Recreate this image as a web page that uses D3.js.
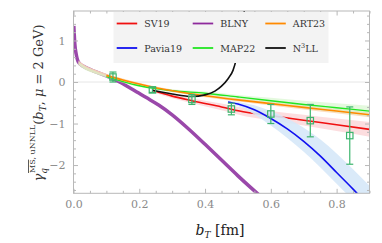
<!DOCTYPE html>
<html>
  <head>
    <title>Rapidity anomalous dimension</title>
    <script src="https://d3js.org/d3.v7.min.js"></script>
    <style>
      body { margin: 0; background: #fff; }
    </style>
  </head>
  <body>
    <div id="chart"></div>
    <script>
      // curves (bT in fm)
      const bBLNY = [0.001, 0.004, 0.008, 0.015, 0.03, 0.06, 0.1, 0.14, 0.18, 0.22, 0.26, 0.3, 0.35, 0.4, 0.45, 0.5, 0.54, 0.57];
      const yBLNY = [1.35, 0.92, 0.68, 0.48, 0.38, 0.27, 0.15, 0.0, -0.18, -0.37, -0.56, -0.79, -1.13, -1.5, -1.88, -2.26, -2.55, -2.76];

      const bGrid = [0.015, 0.03, 0.06, 0.1, 0.15, 0.2, 0.25, 0.3, 0.4, 0.5, 0.6, 0.7, 0.8, 0.9];
      const yART23 = [0.47, 0.38, 0.27, 0.16, 0.05, -0.05, -0.14, -0.21, -0.33, -0.43, -0.52, -0.61, -0.7, -0.79];
      const errART23 = [0.05, 0.05, 0.045, 0.04, 0.035, 0.03, 0.03, 0.03, 0.035, 0.04, 0.045, 0.05, 0.055, 0.06];
      const yMAP22 = [0.45, 0.36, 0.25, 0.13, 0.01, -0.09, -0.16, -0.21, -0.27, -0.36, -0.45, -0.54, -0.62, -0.7];
      const errMAP22 = [0.04, 0.04, 0.035, 0.03, 0.03, 0.03, 0.03, 0.035, 0.04, 0.05, 0.07, 0.09, 0.11, 0.13];

      const bSV19 = [0.24, 0.3, 0.36, 0.45, 0.525, 0.6, 0.7, 0.8, 0.9];
      const ySV19 = [-0.2, -0.34, -0.45, -0.6, -0.73, -0.81, -0.92, -1.03, -1.14];
      const hiSV19 = [-0.16, -0.29, -0.39, -0.52, -0.63, -0.7, -0.79, -0.88, -0.96];
      const loSV19 = [-0.24, -0.39, -0.51, -0.68, -0.83, -0.92, -1.05, -1.18, -1.32];

      const bPavia = [0.47, 0.5, 0.55, 0.6, 0.65, 0.7, 0.75, 0.8, 0.85, 0.9];
      const yPavia = [-0.48, -0.53, -0.67, -0.88, -1.13, -1.43, -1.78, -2.18, -2.58, -3.0];
      const hiPavia = [-0.45, -0.48, -0.56, -0.7, -0.88, -1.1, -1.38, -1.72, -2.1, -2.5];
      const loPavia = [-0.51, -0.58, -0.78, -1.05, -1.35, -1.68, -2.05, -2.45, -2.85, -3.3];

      const bN3LL = [0.24, 0.3, 0.36, 0.4, 0.43, 0.45, 0.47, 0.485, 0.495, 0.505, 0.512, 0.52];
      const yN3LL = [-0.2, -0.29, -0.35, -0.31, -0.22, -0.1, 0.08, 0.28, 0.55, 0.95, 1.3, 1.75];

      // lattice points
      const bLat = [0.12, 0.24, 0.36, 0.48, 0.6, 0.72, 0.84];
      const yLat = [0.12, -0.19, -0.42, -0.65, -0.77, -0.93, -1.29];
      const eLat = [0.12, 0.06, 0.12, 0.14, 0.23, 0.39, 0.69];

      const xMajor = [0, 0.2, 0.4, 0.6, 0.8];
      const yMajor = [-2, -1, 0, 1];

      const legendNames = ['SV19', 'BLNY', 'ART23', 'Pavia19', 'MAP22', 'N3LL'];
      const legendColors = ['#f01010', '#8e2a9c', '#ff8a00', '#1010f0', '#22e622', '#111111'];

      const W = 382, H = 243;
      const x = d3.scaleLinear().domain([0, 0.9]).range([73.5, 369.5]);
      const y = d3.scaleLinear().domain([-2.68, 1.71]).range([193.3, 11]);

      const svg = d3.select('#chart').append('svg')
        .attr('width', W).attr('height', H)
        .attr('font-family', 'DejaVu Serif');

      svg.append('clipPath').attr('id', 'clip')
        .append('rect')
        .attr('x', x(0)).attr('y', y(1.71))
        .attr('width', x(0.9) - x(0)).attr('height', y(-2.68) - y(1.71));

      // gridline at zero
      svg.append('line')
        .attr('x1', x(0)).attr('x2', x(0.9))
        .attr('y1', y(0)).attr('y2', y(0))
        .attr('stroke', '#e6e6e6').attr('stroke-width', 1);

      const plot = svg.append('g').attr('clip-path', 'url(#clip)');

      const line = d3.line().curve(d3.curveMonotoneX);
      const area = d3.area().curve(d3.curveMonotoneX);

      function band(bs, lo, hi, fill, op) {
        plot.append('path')
          .attr('d', area.x((d, i) => x(bs[i])).y0((d, i) => y(lo[i])).y1((d, i) => y(hi[i]))(bs))
          .attr('fill', fill).attr('opacity', op);
      }
      function curve(bs, ys, color, w, from) {
        const pts = bs.map((b, i) => [b, ys[i]]).filter(p => p[0] >= (from || 0));
        plot.append('path')
          .attr('d', line.x(p => x(p[0])).y(p => y(p[1]))(pts))
          .attr('fill', 'none').attr('stroke', color).attr('stroke-width', w);
      }

      // BLNY underneath, the bands cover it where they overlap
      curve(bBLNY, yBLNY, '#9a48aa', 3.5);

      band(bGrid, yART23.map((v, i) => v - errART23[i]), yART23.map((v, i) => v + errART23[i]), '#fcd9b8', 0.9);
      band(bGrid, yMAP22.map((v, i) => v - errMAP22[i]), yMAP22.map((v, i) => v + errMAP22[i]), '#d2f5c8', 0.6);
      band(bSV19, loSV19, hiSV19, '#fbcfd2', 0.7);

      curve(bSV19, ySV19, legendColors[0], 1.6);

      band(bPavia, loPavia, hiPavia, '#d6e8f8', 0.9);
      curve(bPavia, yPavia, legendColors[3], 1.6);

      curve(bGrid, yMAP22, legendColors[4], 1.4, 0.1);
      curve(bGrid, yART23, legendColors[2], 1.6, 0.1);
      curve(bN3LL, yN3LL, legendColors[5], 1.6);

      // lattice data
      const latG = svg.append('g').attr('stroke', '#3db56e').attr('fill', 'none').attr('stroke-width', 1.2);
      bLat.forEach((b, i) => {
        const cx = x(b);
        latG.append('line').attr('x1', cx).attr('x2', cx)
          .attr('y1', y(yLat[i] + eLat[i])).attr('y2', y(yLat[i] - eLat[i]));
        [yLat[i] + eLat[i], yLat[i] - eLat[i]].forEach(v => {
          latG.append('line').attr('x1', cx - 3.5).attr('x2', cx + 3.5)
            .attr('y1', y(v)).attr('y2', y(v));
        });
        latG.append('rect').attr('x', cx - 3.2).attr('y', y(yLat[i]) - 3.2)
          .attr('width', 6.4).attr('height', 6.4);
      });

      // frame + ticks
      svg.append('rect')
        .attr('x', x(0)).attr('y', y(1.71))
        .attr('width', x(0.9) - x(0)).attr('height', y(-2.68) - y(1.71))
        .attr('fill', 'none').attr('stroke', '#b8b8b8');

      const xMinor = d3.range(0, 0.901, 0.05).filter(v => !xMajor.some(m => Math.abs(m - v) < 1e-6));
      const yMinor = d3.range(-2.6, 1.71, 0.2).filter(v => !yMajor.some(m => Math.abs(m - v) < 1e-6));

      function ticks(axis, pos, vals, size) {
        const g = svg.append('g').attr('transform', pos)
          .call(axis.tickValues(vals).tickSize(size).tickFormat(''));
        g.select('.domain').remove();
        g.selectAll('line').attr('stroke', '#b8b8b8');
        return g;
      }
      const posBottom = 'translate(0,' + y(-2.68) + ')';
      const posTop = 'translate(0,' + y(1.71) + ')';
      const posLeft = 'translate(' + x(0) + ',0)';
      const posRight = 'translate(' + x(0.9) + ',0)';
      ticks(d3.axisBottom(x), posBottom, xMajor, -4.5);
      ticks(d3.axisBottom(x), posBottom, xMinor, -2.5);
      ticks(d3.axisTop(x), posTop, xMajor, -4.5);
      ticks(d3.axisTop(x), posTop, xMinor, -2.5);
      ticks(d3.axisLeft(y), posLeft, yMajor, -4.5);
      ticks(d3.axisLeft(y), posLeft, yMinor, -2.5);
      ticks(d3.axisRight(y), posRight, yMajor, -4.5);
      ticks(d3.axisRight(y), posRight, yMinor, -2.5);

      // tick labels
      const xl = svg.append('g').attr('transform', 'translate(0,' + (y(-2.68) + 4) + ')')
        .call(d3.axisBottom(x).tickValues(xMajor).tickSize(0).tickFormat(d3.format('.1f')));
      xl.select('.domain').remove();
      xl.attr('font-family', null);
      xl.selectAll('text').attr('font-size', 11).attr('fill', '#8a8a8a');

      const yl = svg.append('g').attr('transform', 'translate(' + (x(0) - 5) + ',0)')
        .call(d3.axisLeft(y).tickValues(yMajor).tickSize(0).tickFormat(d => d < 0 ? '\u2212' + (-d) : d));
      yl.select('.domain').remove();
      yl.attr('font-family', null);
      yl.selectAll('text').attr('font-size', 11).attr('fill', '#8a8a8a');

      // axis titles
      const xt = svg.append('text').attr('x', 220).attr('y', 235)
        .attr('text-anchor', 'middle').attr('font-size', 14).attr('fill', '#222');
      xt.append('tspan').attr('font-style', 'italic').text('b');
      xt.append('tspan').attr('font-style', 'italic').attr('font-size', 9).attr('dy', 3).text('T');
      xt.append('tspan').attr('dy', -3).text(' [fm]');

      const yt = svg.append('text').attr('transform', 'translate(43,103) rotate(-90)')
        .attr('text-anchor', 'middle').attr('font-size', 13).attr('fill', '#333');
      yt.append('tspan').attr('font-style', 'italic').text('\u03b3');
      yt.append('tspan').attr('font-style', 'italic').attr('font-size', 9).attr('dy', 4).text('q');
      yt.append('tspan').attr('font-size', 8).attr('dx', -5).attr('dy', -12)
        .style('text-decoration', 'overline').text('MS');
      yt.append('tspan').attr('font-size', 8).text(', uNNLL');
      yt.append('tspan').attr('dy', 8).text('(');
      yt.append('tspan').attr('font-style', 'italic').text('b');
      yt.append('tspan').attr('font-style', 'italic').attr('font-size', 9).attr('dy', 3).text('T');
      yt.append('tspan').attr('dy', -3).text(', ');
      yt.append('tspan').attr('font-style', 'italic').text('\u03bc');
      yt.append('tspan').text(' = 2 GeV)');

      // legend
      const lg = svg.append('g');
      lg.append('rect').attr('x', 113.5).attr('y', 12).attr('width', 215).attr('height', 51)
        .attr('fill', '#f3f3f3');
      const colX = [116.7, 192.7, 265.3];
      const rowY = [23.5, 48];
      legendNames.forEach((name, i) => {
        const cx = colX[i % 3], cy = rowY[Math.floor(i / 3)];
        lg.append('line').attr('x1', cx).attr('x2', cx + 20.5)
          .attr('y1', cy).attr('y2', cy)
          .attr('stroke', legendColors[i]).attr('stroke-width', 1.8);
        const t = lg.append('text').attr('x', cx + 27.5).attr('y', cy + 3.5)
          .attr('font-size', 9.5).attr('fill', '#333');
        if (name === 'N3LL') {
          t.append('tspan').text('N');
          t.append('tspan').attr('font-size', 6.5).attr('dy', -4).text('3');
          t.append('tspan').attr('dy', 4).text('LL');
        } else {
          t.text(name);
        }
      });
    </script>
  </body>
</html>
